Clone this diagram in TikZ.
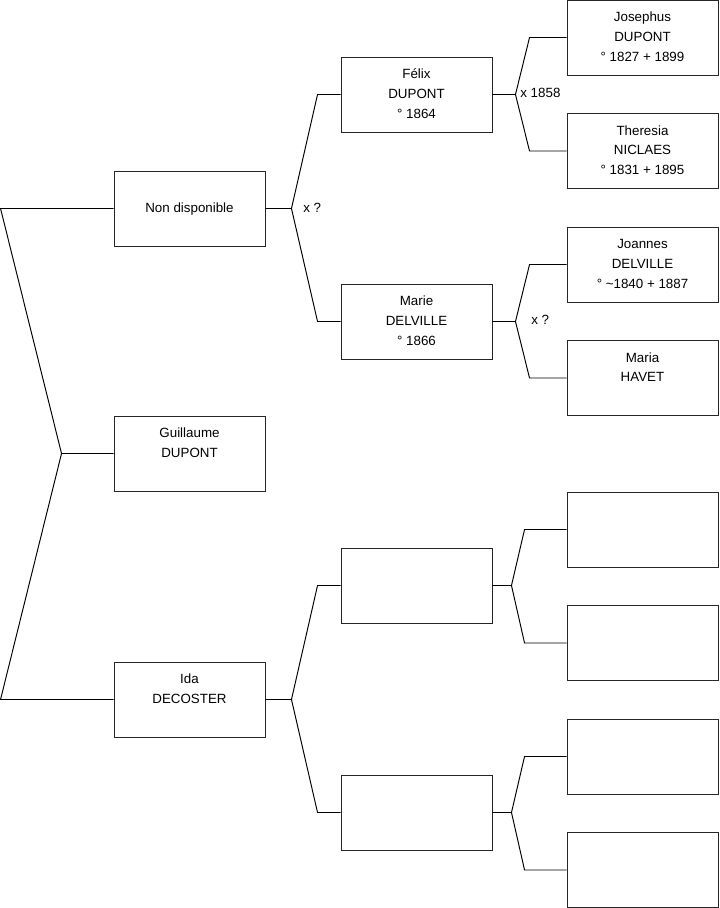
\documentclass[tikz,border=0pt]{standalone}
\usepackage{fontspec}
\setmainfont{Liberation Sans}
\usetikzlibrary{calc}
\newcommand{\tri}[3]{\strut #1\\\strut #2\\\strut #3}
\tikzset{
  person/.style={draw=black!85, line width=0.55pt, minimum width=3.02cm, minimum height=1.5cm, inner sep=0pt, align=center, font=\fontsize{7.6}{11.3}\selectfont},
  link/.style={line width=0.55pt},
  marr/.style={anchor=west, inner sep=0pt, font=\fontsize{7.6}{11.3}\selectfont}
}
\begin{document}
\begin{tikzpicture}[x=0.02cm, y=-0.02cm]
  \useasboundingbox (0,0) rectangle (719,908);

  % Generation 1
  \node[person] (nd) at (189.5,208.5) {\strut Non disponible};
  \node[person] (gu) at (189.5,453.5) {\tri{Guillaume}{DUPONT}{}};
  \node[person] (id) at (189.5,699.5) {\tri{Ida}{DECOSTER}{}};

  % Generation 2
  \node[person] (fe) at (416.5,94.5) {\tri{F\'elix}{DUPONT}{° 1864}};
  \node[person] (ma) at (416.5,321.5) {\tri{Marie}{DELVILLE}{° 1866}};
  \node[person] (e1) at (416.5,585.5) {};
  \node[person] (e2) at (416.5,812.5) {};

  % Generation 3
  \node[person] (jo) at (642.5,37.5) {\tri{Josephus}{DUPONT}{° 1827 + 1899}};
  \node[person] (th) at (642.5,151) {\tri{Theresia}{NICLAES}{° 1831 + 1895}};
  \node[person] (ja) at (642.5,264.5) {\tri{Joannes}{DELVILLE}{° \textasciitilde1840 + 1887}};
  \node[person] (mh) at (642.5,378) {\tri{Maria}{HAVET}{}};
  \node[person] (e3) at (642.5,529.5) {};
  \node[person] (e4) at (642.5,643) {};
  \node[person] (e5) at (642.5,756.5) {};
  \node[person] (e6) at (642.5,870) {};

  % Root bracket
  \coordinate (r0) at ($(gu.west)+(-52,0)$);
  \draw[link] (gu.west) -- (r0) -- ($(nd.west)+(-113,0)$) -- (nd.west);
  \draw[link] (r0) -- ($(id.west)+(-113,0)$) -- (id.west);

  % Generation 1 -> 2
  \coordinate (f1) at ($(nd.east)+(26,0)$);
  \draw[link] (nd.east) -- (f1) -- ($(fe.west)+(-23,0)$) -- (fe.west);
  \draw[link] (f1) -- ($(ma.west)+(-23,0)$) -- (ma.west);
  \coordinate (f2) at ($(id.east)+(26,0)$);
  \draw[link] (id.east) -- (f2) -- ($(e1.west)+(-23,0)$) -- (e1.west);
  \draw[link] (f2) -- ($(e2.west)+(-23,0)$) -- (e2.west);

  % Generation 2 -> 3
  \coordinate (f3) at ($(fe.east)+(23,0)$);
  \draw[link] (fe.east) -- (f3) -- ($(jo.west)+(-37,0)$) -- (jo.west);
  \draw[link] (f3) -- ($(th.west)+(-37,0)$) -- (th.west);
  \coordinate (f4) at ($(ma.east)+(23,0)$);
  \draw[link] (ma.east) -- (f4) -- ($(ja.west)+(-37,0)$) -- (ja.west);
  \draw[link] (f4) -- ($(mh.west)+(-37,0)$) -- (mh.west);
  \coordinate (f5) at ($(e1.east)+(19,0)$);
  \draw[link] (e1.east) -- (f5) -- ($(e3.west)+(-42,0)$) -- (e3.west);
  \draw[link] (f5) -- ($(e4.west)+(-42,0)$) -- (e4.west);
  \coordinate (f6) at ($(e2.east)+(19,0)$);
  \draw[link] (e2.east) -- (f6) -- ($(e5.west)+(-42,0)$) -- (e5.west);
  \draw[link] (f6) -- ($(e6.west)+(-42,0)$) -- (e6.west);

  % Marriages
  \node[marr] (m1) at (303,207.5) {x ?};
  \node[marr] (m2) at (520,93) {x 1858};
  \node[marr] (m3) at (531,320) {x ?};
\end{tikzpicture}
\end{document}
